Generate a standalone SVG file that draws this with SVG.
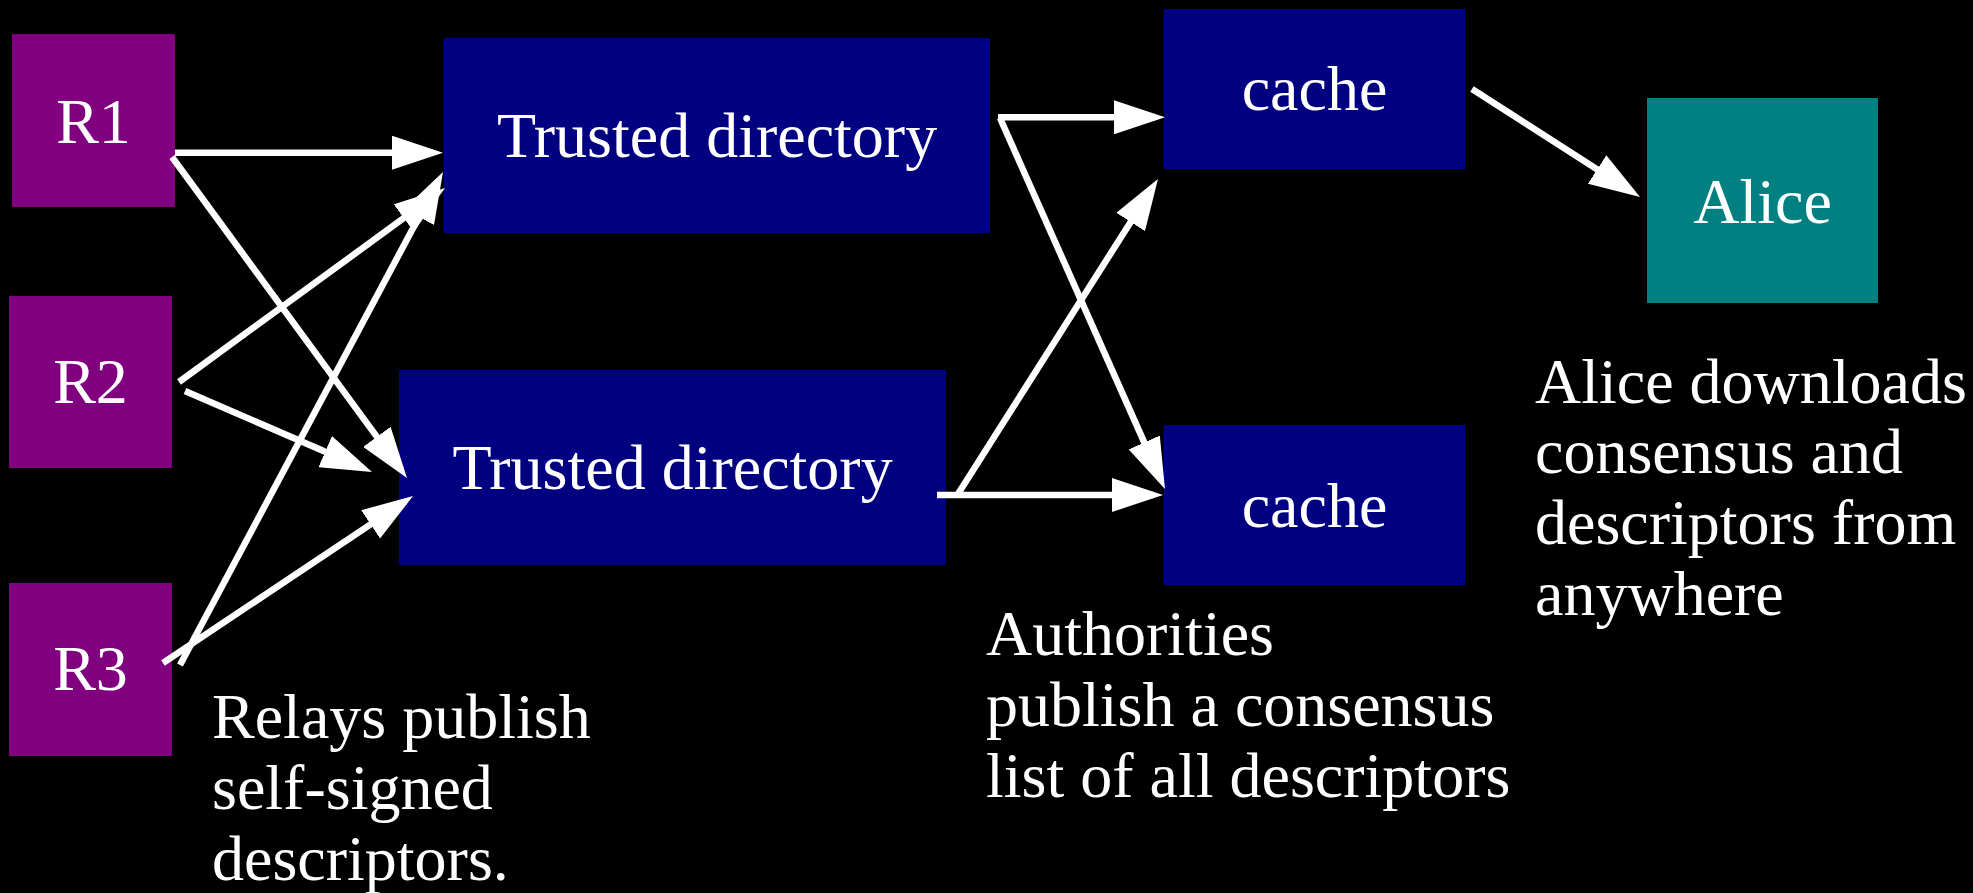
<svg xmlns="http://www.w3.org/2000/svg" width="1973" height="893" viewBox="0 0 1973 893">
  <style>
    .lbl { font-family: "Liberation Serif", "Times New Roman", serif; font-size: 64px; fill: #ffffff; }
    .c { text-anchor: middle; }
    .relay { fill: #800080; }
    .dir { fill: #000080; }
    .alice { fill: #008080; }
    .conn { stroke: #ffffff; stroke-width: 6.5; fill: none; stroke-linecap: butt; stroke-linejoin: miter; }
    .arr { marker-end: url(#ah); }
  </style>
  <defs>
    <marker id="ah" viewBox="0 0 51 34" refX="41" refY="17" markerWidth="51" markerHeight="34" markerUnits="userSpaceOnUse" orient="auto">
      <path d="M0,0 L51,17 L0,34 z" fill="#ffffff"/>
    </marker>
  </defs>
  <rect x="0" y="0" width="1973" height="893" fill="#000000"/>

  <g id="R1">
    <rect class="relay" x="12" y="34" width="163" height="173"/>
    <text class="lbl c" x="93.5" y="143">R1</text>
  </g>
  <g id="R2">
    <rect class="relay" x="9" y="296" width="163" height="172"/>
    <text class="lbl c" x="90.5" y="403">R2</text>
  </g>
  <g id="R3">
    <rect class="relay" x="9" y="583" width="163" height="173"/>
    <text class="lbl c" x="90.5" y="690">R3</text>
  </g>
  <g id="TD1">
    <rect class="dir" x="444" y="38" width="546" height="195"/>
    <text class="lbl c" x="717" y="157">Trusted directory</text>
  </g>
  <g id="TD2">
    <rect class="dir" x="399" y="370" width="547" height="195"/>
    <text class="lbl c" x="672.5" y="489">Trusted directory</text>
  </g>
  <g id="cache1">
    <rect class="dir" x="1164" y="9" width="301" height="160"/>
    <text class="lbl c" x="1314.5" y="110">cache</text>
  </g>
  <g id="cache2">
    <rect class="dir" x="1164" y="425" width="301" height="160"/>
    <text class="lbl c" x="1314.5" y="527">cache</text>
  </g>
  <g id="Alice">
    <rect class="alice" x="1647" y="98" width="231" height="205"/>
    <text class="lbl c" x="1762.5" y="223">Alice</text>
  </g>

  <g id="connectors">
    <line class="conn arr" x1="175" y1="152.7" x2="433" y2="152.7"/>
    <line class="conn arr" x1="172" y1="157" x2="401.1" y2="469.9"/>
    <line class="conn arr" x1="179" y1="382" x2="436.9" y2="193.9"/>
    <line class="conn arr" x1="185" y1="391" x2="362.8" y2="468"/>
    <line class="conn arr" x1="180" y1="665" x2="438.3" y2="180.8"/>
    <line class="conn arr" x1="163" y1="663" x2="404.7" y2="501.6"/>
    <line class="conn arr" x1="998" y1="117.3" x2="1155" y2="117.3"/>
    <line class="conn arr" x1="1000" y1="118" x2="1160.9" y2="479.9"/>
    <line class="conn arr" x1="937" y1="495" x2="1153" y2="495"/>
    <line class="conn arr" x1="958" y1="494" x2="1152.6" y2="187.4"/>
    <line class="conn arr" x1="1472" y1="89" x2="1631.6" y2="191.6"/>
  </g>

  <g id="labels">
    <text class="lbl" x="212" y="738">Relays publish</text>
    <text class="lbl" x="212" y="809">self-signed</text>
    <text class="lbl" x="212" y="880">descriptors.</text>
    <text class="lbl" x="986" y="655">Authorities</text>
    <text class="lbl" x="986" y="726">publish a consensus</text>
    <text class="lbl" x="986" y="797">list of all descriptors</text>
    <text class="lbl" x="1535" y="403">Alice downloads</text>
    <text class="lbl" x="1535" y="473">consensus and</text>
    <text class="lbl" x="1535" y="544">descriptors from</text>
    <text class="lbl" x="1535" y="615">anywhere</text>
  </g>
</svg>
